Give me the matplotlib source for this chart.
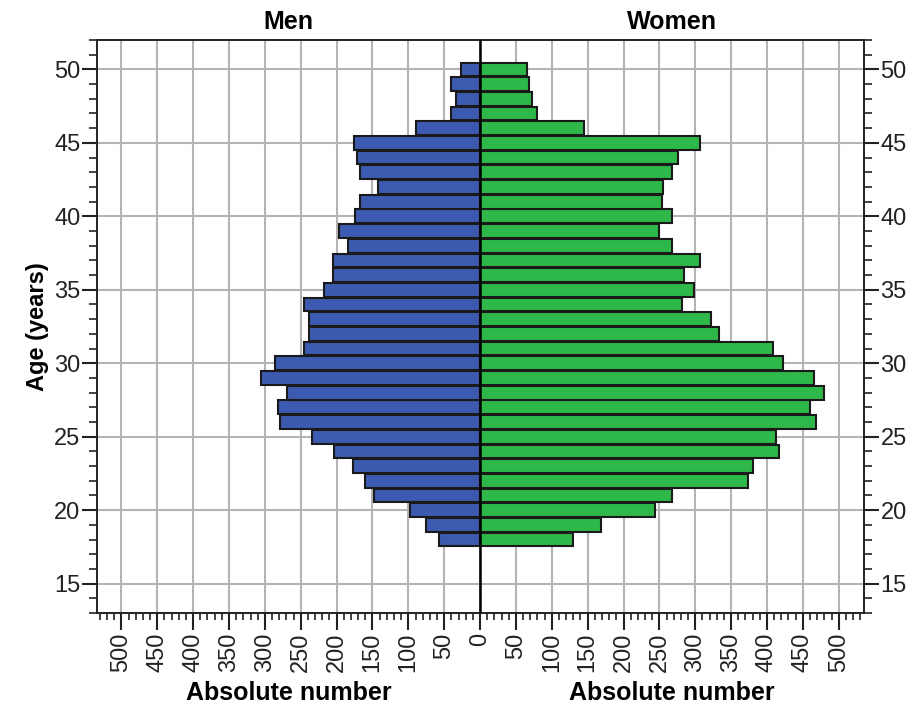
import numpy as np
import matplotlib
matplotlib.use("Agg")
import matplotlib.pyplot as plt
from matplotlib.ticker import MultipleLocator, FuncFormatter

plt.rcParams['font.family'] = ['Liberation Sans', 'DejaVu Sans']

# ages 18..50
ages = list(range(18, 51))
men = [57, 76, 98, 148, 161, 177, 204, 234, 279, 281, 269, 305, 286, 245, 238, 238, 246,
       217, 205, 205, 184, 196, 174, 168, 142, 167, 171, 176, 90, 41, 33, 41, 26]
women = [130, 169, 244, 268, 373, 381, 417, 412, 468, 460, 479, 465, 423, 408, 333, 322, 281,
         298, 285, 307, 267, 250, 268, 254, 255, 267, 276, 307, 145, 80, 73, 68, 66]

fig = plt.figure(figsize=(9.17, 7.11), dpi=100)
ax = fig.add_axes([0.1058, 0.1378, 0.8362, 0.8059])

ax.grid(True, color='#b4b4b4', linewidth=1.5, zorder=0)
ax.set_axisbelow(True)

ax.barh(ages, [-m for m in men], height=0.94, color='#3c5aaf', edgecolor='#1a1a1a',
        linewidth=1.5, zorder=3)
ax.barh(ages, women, height=0.94, color='#2eb84a', edgecolor='#1a1a1a',
        linewidth=1.5, zorder=3)
ax.axvline(0, color='black', linewidth=1.8, zorder=4)

ax.set_xlim(-534, 535)
ax.set_ylim(13, 52)

ax.xaxis.set_major_locator(MultipleLocator(50))
ax.xaxis.set_minor_locator(MultipleLocator(10))
ax.xaxis.set_major_formatter(FuncFormatter(lambda v, p: f"{abs(int(round(v)))}"))
ax.yaxis.set_major_locator(MultipleLocator(5))
ax.yaxis.set_minor_locator(MultipleLocator(1))

ax.tick_params(axis='x', which='major', direction='out', length=12, width=1.5,
               labelsize=17, labelrotation=90, pad=2, colors='#222222')
ax.tick_params(axis='x', which='minor', direction='out', length=5, width=1.2, colors='#222222')
ax.tick_params(axis='y', which='major', direction='out', length=11, width=1.5,
               labelsize=17, left=True, right=True, labelleft=True, labelright=True,
               pad=1, colors='#222222')
ax.tick_params(axis='y', which='minor', direction='out', length=6, width=1.2,
               left=True, right=True, colors='#222222')

for s in ax.spines.values():
    s.set_linewidth(1.4)
    s.set_color('#222222')

ax.set_ylabel('Age (years)', fontsize=17, fontweight='bold', labelpad=4)

ax.text(0.25, 1.01, 'Men', transform=ax.transAxes, ha='center', va='bottom',
        fontsize=18, fontweight='bold')
ax.text(0.75, 1.01, 'Women', transform=ax.transAxes, ha='center', va='bottom',
        fontsize=18, fontweight='bold')
fig.text(0.1058 + 0.8362 * 0.25, 0.008, 'Absolute number', ha='center', va='bottom',
         fontsize=18, fontweight='bold')
fig.text(0.1058 + 0.8362 * 0.75, 0.008, 'Absolute number', ha='center', va='bottom',
         fontsize=18, fontweight='bold')

fig.savefig('out.png', dpi=100)
